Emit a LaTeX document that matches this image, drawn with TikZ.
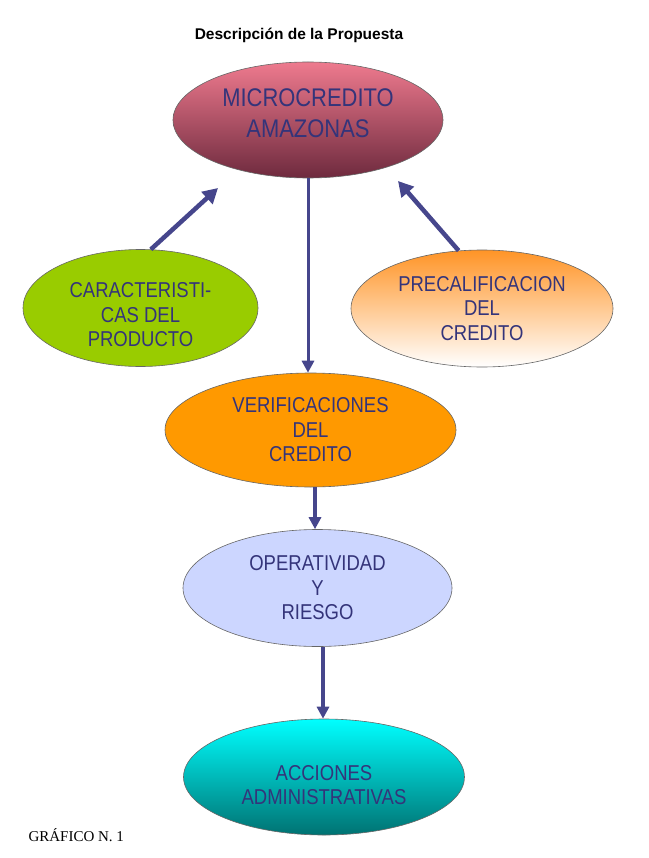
\documentclass[tikz,border=0pt]{standalone}
\usepackage{fontspec}
\setmainfont{Liberation Serif}
\newfontfamily\ellfont[FakeStretch=0.86]{Liberation Sans}
\newfontfamily\titlefont{Liberation Sans}
\usetikzlibrary{arrows.meta,shapes.geometric}
\definecolor{arrowblue}{HTML}{46468C}
\definecolor{textblue}{HTML}{34347A}
\definecolor{microtop}{HTML}{EE7A8E}
\definecolor{micromid}{HTML}{C65268}
\definecolor{microbot}{HTML}{6E2A3E}
\definecolor{prodgreen}{HTML}{99CC00}
\definecolor{precorange}{HTML}{FF9426}
\definecolor{verorange}{HTML}{FF9900}
\definecolor{operblue}{HTML}{CCD6FF}
\definecolor{acctop}{HTML}{00FFFF}
\definecolor{accbot}{HTML}{007272}
\begin{document}
\begin{tikzpicture}[x=1pt,y=-1pt,
    ell/.style={ellipse,draw=black!60,line width=0.6pt,text=textblue,align=center,
        inner sep=0pt,font=\ellfont\fontsize{21.5}{24.5}\selectfont},
    flow/.style={draw=arrowblue,line width=3.5pt,-{Triangle[length=12pt,width=12pt]}}]
    \useasboundingbox (0,0) rectangle (648,858);
    \node[font=\titlefont\bfseries\fontsize{15.5}{18}\selectfont] (title) at (299,35) {Descripción de la Propuesta};
    % ellipses
    \node[ell,minimum width=270pt,minimum height=116pt,top color=microtop,middle color=micromid,bottom color=microbot,
        font=\ellfont\fontsize{25.5}{31}\selectfont] (micro) at (308,120) {MICROCREDITO\\AMAZONAS\rule[-14pt]{0pt}{14pt}};
    \node[ell,minimum width=235pt,minimum height=117pt,fill=prodgreen] (caract) at (140.5,308)
        {\rule{0pt}{29pt}CARACTERISTI-\\CAS DEL\\PRODUCTO};
    \node[ell,minimum width=262pt,minimum height=117pt,top color=precorange,bottom color=white] (precal) at (482,308.5)
        {PRECALIFICACION\\DEL\\CREDITO};
    \node[ell,minimum width=291pt,minimum height=114pt,fill=verorange] (verif) at (310.5,430)
        {VERIFICACIONES\\DEL\\CREDITO};
    \node[ell,minimum width=269pt,minimum height=117pt,fill=operblue] (oper) at (317.5,588)
        {OPERATIVIDAD\\Y\\RIESGO};
    \node[ell,minimum width=281pt,minimum height=116pt,top color=acctop,bottom color=accbot] (acc) at (324,777)
        {\rule{0pt}{31pt}ACCIONES\\ADMINISTRATIVAS};
    % arrows
    \coordinate (tipL) at (218,188);
    \coordinate (tipR) at (398,181);
    \draw[flow,line width=4.5pt,-{Triangle[length=15pt,width=16pt]}] (caract.80) -- (tipL);
    \draw[flow,line width=4.5pt,-{Triangle[length=15pt,width=16pt]}] (precal.112) -- (tipR);
    \draw[flow,line width=3pt] (micro.south) -- (micro.south |- verif.north);
    \draw[flow] ([xshift=4.5pt]verif.south) -- ([xshift=4.5pt]verif.south |- oper.north);
    \draw[flow] ([xshift=5.5pt]oper.south) -- ([xshift=5.5pt]oper.south |- acc.north);
    \node[anchor=base west,font=\fontsize{15}{17}\selectfont] (graf) at (25,841) {GRÁFICO N. 1};
\end{tikzpicture}
\end{document}
